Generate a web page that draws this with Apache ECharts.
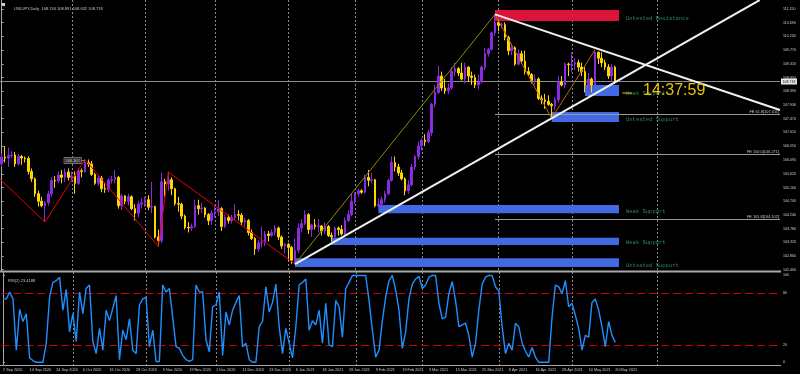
<!DOCTYPE html>
<html><head><meta charset="utf-8">
<script src="https://cdn.jsdelivr.net/npm/echarts@6/dist/echarts.min.js"></script>
<style>html,body{margin:0;padding:0;background:#000;}#c{width:800px;height:374px;}</style>
</head><body><div id="c"></div>
<script>
// ---------- DATA ----------
const dateLabels = ['2 Sep 2020','14 Sep 2020','24 Sep 2020','6 Oct 2020','16 Oct 2020','28 Oct 2020','9 Nov 2020','19 Nov 2020','1 Dec 2020','11 Dec 2020','23 Dec 2020','6 Jan 2021','18 Jan 2021','28 Jan 2021','9 Feb 2021','19 Feb 2021','3 Mar 2021','15 Mar 2021','25 Mar 2021','6 Apr 2021','16 Apr 2021','28 Apr 2021','10 May 2021','20 May 2021'];

const opens = [105.95,106.18,106.15,106.23,106.25,105.95,106.20,106.15,106.13,105.70,
105.45,104.95,104.70,104.55,104.65,104.95,105.40,105.38,105.58,105.50,
105.68,105.50,105.55,105.30,105.72,105.70,106.00,105.95,105.60,105.30,
105.48,105.12,105.10,105.40,105.42,105.50,104.55,104.88,104.70,104.85,
104.45,104.30,104.60,104.65,104.75,104.50,104.52,103.50,103.38,105.35,
105.28,105.42,105.12,104.62,104.60,104.20,103.82,103.80,103.85,104.55,
104.45,104.47,104.25,104.05,104.30,104.35,104.45,103.85,104.15,104.05,
104.15,104.25,104.23,104.00,104.05,103.65,103.45,103.10,103.30,103.32,
103.60,103.55,103.65,103.80,103.50,103.20,103.25,103.15,102.72,103.05,
103.80,103.95,104.25,103.75,103.90,103.85,103.87,103.70,103.85,103.55,
103.50,103.80,103.75,103.60,104.05,104.25,104.70,104.95,105.05,105.00,
105.50,105.40,105.42,104.55,104.60,104.75,104.95,105.40,106.00,105.85,
105.65,105.45,105.05,105.25,105.85,106.20,106.55,106.75,106.70,107.00,
107.95,108.35,108.90,108.50,108.40,108.50,109.05,109.15,109.00,108.80,
109.20,108.90,108.85,108.60,108.70,109.20,109.65,109.80,110.35,110.70,
110.60,110.62,110.20,109.75,109.85,109.30,109.65,109.40,109.05,108.95,
108.75,108.80,108.15,108.10,108.05,107.95,107.90,108.10,108.70,108.60,
109.30,109.28,109.30,109.35,109.20,109.05,108.60,108.80,108.60,109.70,
109.50,109.35,109.20,108.90,109.20];
const closes = [106.18,106.15,106.23,106.25,105.95,106.20,106.15,106.13,105.70,105.45,
104.95,104.70,104.55,104.65,104.95,105.40,105.38,105.58,105.50,105.68,
105.50,105.55,105.30,105.72,105.70,106.00,105.95,105.60,105.30,105.48,
105.12,105.10,105.40,105.42,105.50,104.55,104.88,104.70,104.85,104.45,
104.30,104.60,104.65,104.75,104.50,104.52,103.50,103.38,105.35,105.28,
105.42,105.12,104.62,104.60,104.20,103.82,103.80,103.85,104.55,104.45,
104.47,104.25,104.05,104.30,104.35,104.45,103.85,104.15,104.05,104.15,
104.25,104.23,104.00,104.05,103.65,103.45,103.10,103.30,103.32,103.60,
103.55,103.65,103.80,103.50,103.20,103.25,103.15,102.72,103.05,103.80,
103.95,104.25,103.75,103.90,103.85,103.87,103.70,103.85,103.55,103.50,
103.80,103.75,103.60,104.05,104.25,104.70,104.95,105.05,105.00,105.50,
105.40,105.42,104.55,104.60,104.75,104.95,105.40,106.00,105.85,105.65,
105.45,105.05,105.25,105.85,106.20,106.55,106.75,106.70,107.00,107.95,
108.35,108.90,108.50,108.40,108.50,109.05,109.15,109.00,108.80,109.20,
108.90,108.85,108.60,108.70,109.20,109.65,109.80,110.35,110.70,110.60,
110.62,110.20,109.75,109.85,109.30,109.65,109.40,109.05,108.95,108.75,
108.80,108.15,108.10,108.05,107.95,107.90,108.10,108.70,108.60,109.30,
109.28,109.30,109.35,109.20,109.05,108.60,108.80,108.60,109.70,109.50,
109.35,109.20,108.90,109.20,108.72];
const lows = [105.85,106.00,105.85,106.15,105.85,105.90,105.92,106.00,105.60,105.35,
104.85,104.52,104.50,104.00,104.55,104.85,105.15,105.30,105.30,105.35,
105.40,105.35,104.95,105.25,105.50,105.65,105.85,105.55,105.25,105.20,
105.00,104.98,105.00,105.30,105.30,104.45,104.40,104.60,104.55,104.40,
104.05,104.15,104.45,104.50,104.40,104.30,103.45,103.18,103.30,104.85,
105.05,104.90,104.55,104.35,104.10,103.75,103.65,103.70,103.80,104.25,
104.30,104.15,103.90,103.90,104.15,104.20,103.70,103.80,103.95,103.95,
104.05,104.05,103.90,103.85,103.55,103.40,102.90,103.00,103.15,103.20,
103.35,103.50,103.55,103.40,103.10,102.95,102.70,102.60,102.59,102.95,
103.65,103.90,103.60,103.50,103.75,103.65,103.55,103.60,103.50,103.35,
103.45,103.55,103.55,103.55,104.00,104.20,104.60,104.85,104.95,104.95,
105.20,105.30,104.50,104.50,104.50,104.65,104.90,105.35,105.70,105.55,
105.40,104.90,104.95,105.20,105.75,106.10,106.40,106.55,106.65,106.90,
107.85,108.30,108.40,108.30,108.30,108.45,108.90,108.90,108.75,108.65,
108.70,108.60,108.50,108.45,108.65,109.10,109.55,109.75,110.25,110.40,
110.50,110.10,109.60,109.60,109.25,109.25,109.30,108.95,108.90,108.65,
108.60,108.10,107.95,107.80,107.90,107.48,107.75,108.00,108.55,108.50,
108.90,109.05,109.10,109.05,108.90,108.35,108.35,108.35,108.55,109.30,
109.20,109.10,108.80,108.70,108.63];
const highs = [106.30,106.55,106.50,106.38,106.35,106.28,106.25,106.20,106.20,105.80,
105.50,105.05,104.85,104.70,105.05,105.50,105.55,105.70,105.75,105.80,
105.80,105.70,105.70,105.80,105.80,106.10,106.10,106.05,105.65,105.55,
105.55,105.30,105.48,105.55,105.75,105.55,104.95,104.90,104.95,104.90,
104.60,104.70,104.80,104.85,104.90,105.35,104.55,103.75,105.65,105.45,
105.68,105.50,105.15,104.85,104.65,104.25,104.00,103.95,104.75,104.75,
104.65,104.50,104.30,104.40,104.55,104.75,104.50,104.25,104.25,104.25,
104.60,104.40,104.30,104.15,104.10,103.75,103.50,103.40,103.85,103.70,
103.70,103.75,103.90,103.85,103.55,103.30,103.30,103.20,103.45,103.95,
104.10,104.40,104.30,103.95,104.10,104.10,103.90,104.00,103.90,103.65,
103.85,103.85,103.90,104.15,104.40,104.95,105.00,105.10,105.10,105.60,
105.75,105.65,105.45,104.80,104.85,105.05,105.45,106.20,106.20,105.95,
105.75,105.50,105.40,105.95,106.25,106.70,106.80,106.95,107.10,108.00,
108.60,109.25,109.05,108.80,108.65,109.20,109.35,109.20,109.35,109.35,
109.22,109.05,108.95,108.95,109.25,109.85,109.85,110.40,110.97,110.80,
110.70,110.70,110.25,110.00,109.90,109.80,109.75,109.75,109.20,109.00,
108.95,108.85,108.25,108.30,108.25,108.00,108.20,108.90,108.90,109.35,
109.35,109.70,109.50,109.45,109.35,109.20,109.00,108.85,109.78,109.72,
109.70,109.45,109.30,109.30,109.25];

const rsiValues = [73,73,81,73,14,61,47,56,5,2,
0,0,0,22,75,92,94,98,60,84,
35,56,24,81,56,85,89,24,10,39,
14,60,48,62,77,3,37,26,50,14,
10,66,73,75,18,37,1,1,89,81,
85,52,18,16,8,3,1,3,89,81,
81,26,12,64,66,81,8,58,43,60,
69,77,18,22,3,0,0,41,47,87,
58,69,90,41,10,39,22,5,41,89,
92,96,37,48,43,60,22,68,20,18,
71,64,29,85,92,100,100,100,100,100,
71,37,6,14,48,75,94,100,83,60,
16,35,73,90,96,99,85,89,98,100,
100,68,50,52,79,93,71,41,43,45,
31,6,22,60,90,98,100,100,87,82,
41,10,22,14,45,41,22,13,6,17,
6,0,0,0,0,52,89,87,79,94,
64,68,54,39,14,31,29,69,73,60,
41,18,47,31,23];

const priceTicks = [111.15,110.69,110.23,109.77,109.31,108.85,108.39,107.93,107.47,107.01,106.55,106.09,105.62,105.16,104.70,104.24,103.78,103.32,102.86,102.40];
const rsiTicks = [0,20,80,100];
const rsiLevels = [80,20];
const monthBars = [21,43,64,86,106,126,149,171,196.5];

// zones: [startBar, endBar, topPrice, bottomPrice]
const zones = [[148,185.2,111.12,110.75],[175,185.2,108.60,108.23],[165,185.2,107.69,107.36],[113,185.2,104.57,104.30],[99,185.2,103.47,103.23],[88,185.2,102.79,102.49]];
const zoneLabels = ['Untested Resistance','Weak Support','Untested Support','Weak Support','Weak Support','Untested Support'];
const zoneColors = ['#dc143c','#4169e1','#4169e1','#4169e1','#4169e1','#4169e1'];

const zigzagRed = [[-0.5,105.44],[13,104.00],[25,106.10],[47,103.18],[50,105.68],[88,102.59]];
const zigzagOlive = [[88,102.59],[148,110.97]];
const zigzagOrange = [[148,110.97],[165,107.48],[178,109.78]];
const trendRise = [[88,102.59],[227.4,111.45]];
const trendFall = [[148,110.97],[233.5,107.76]];
const clockDash = [[186.2,108.33],[189.2,108.33]];
const feLevels = [[148,107.611],[148,106.271],[148,104.102]];
const feLabels = ['FE 61.8[107.611]','FE 100.0[106.271]','FE 161.8[104.102]'];
const lastPrice = 108.718;
const pivotLabel = [25,106.10];
const pivotText = '106.102';

// ---------- CHART ----------
const N = 234;
const cats = Array.from({length: N}, (_, i) => String(i));
const candles = opens.map((o, i) => [o, closes[i], lows[i], highs[i]]);

function segSeries(pts, color, width, z) {
  const data = [];
  for (let i = 0; i < pts.length - 1; i++) data.push([pts[i][0], pts[i][1], pts[i+1][0], pts[i+1][1]]);
  return {
    type: 'custom', xAxisIndex: 1, yAxisIndex: 0, silent: true, z: z || 5, clip: false,
    encode: {x: [0, 2], y: [1, 3]},
    data,
    renderItem: (params, api) => {
      const a = api.coord([api.value(0), api.value(1)]);
      const b = api.coord([api.value(2), api.value(3)]);
      return {type: 'line', shape: {x1: a[0], y1: a[1], x2: b[0], y2: b[1]}, style: {stroke: color, lineWidth: width}};
    }
  };
}
function vgrid(xi, yi, yv) {
  return {
    type: 'custom', xAxisIndex: xi, yAxisIndex: yi, silent: true, z: 1, clip: false,
    data: monthBars.map(b => [b, yv]),
    renderItem: (params, api) => {
      const x = Math.round(api.coord([api.value(0), yv])[0]) + 0.5;
      const cs = params.coordSys;
      return {type: 'line', shape: {x1: x, y1: cs.y, x2: x, y2: cs.y + cs.height}, style: {stroke: '#8a8a8a', lineWidth: 1, lineDash: [2, 2]}};
    }
  };
}

const chart = echarts.init(document.getElementById('c'), null, {renderer: 'canvas'});
const smallFont = '"Liberation Sans", Arial, sans-serif';

chart.setOption({
  animation: false,
  backgroundColor: '#000',
  title: [
    {text: 'USDJPY,Daily  108.744 108.891 108.632 108.718', left: 9, top: 2, textStyle: {color: '#c8c8c8', fontSize: 4, fontWeight: 'normal', fontFamily: smallFont}},
    {text: 'RSI(2) 23.4188', left: 3, top: 274, textStyle: {color: '#c8c8c8', fontSize: 4, fontWeight: 'normal', fontFamily: smallFont}}
  ],
  graphic: [
    {type: 'rect', shape: {x: 2, y: 3, width: 3, height: 3}, style: {fill: '#d0d0d0'}},
    {type: 'line', shape: {x1: 0, y1: 271.5, x2: 781, y2: 271.5}, style: {stroke: '#a8a8a8', lineWidth: 2}, z: 50},
    {type: 'line', shape: {x1: 0, y1: 365.5, x2: 781, y2: 365.5}, style: {stroke: '#a8a8a8', lineWidth: 1}, z: 50},
    {type: 'text', x: 643, y: 91, style: {text: '14:37:59', fill: '#e6c200', font: '16px "Liberation Sans", Arial, sans-serif', verticalAlign: 'middle'}, z: 100}
  ],
  grid: [
    {left: 0, top: 0, width: 780, height: 271, show: false},
    {left: 0, top: 272, width: 780, height: 93, show: false}
  ],
  xAxis: [
    {type: 'category', gridIndex: 0, data: cats, show: false, boundaryGap: true},
    {type: 'value', gridIndex: 0, min: -0.5, max: N - 0.5, show: false},
    {type: 'category', gridIndex: 1, data: cats, boundaryGap: true, position: 'bottom',
      axisLine: {show: false}, axisTick: {show: false}, splitLine: {show: false},
      axisLabel: {
        interval: (idx) => idx % 8 === 0 && idx <= 184,
        formatter: (v, idx) => dateLabels[idx / 8] || '',
        align: 'left', color: '#c8c8c8', fontSize: 3.8, fontFamily: smallFont, margin: 2.5
      }},
    {type: 'value', gridIndex: 1, min: -0.5, max: N - 0.5, show: false}
  ],
  yAxis: [
    {type: 'value', gridIndex: 0, position: 'right', min: 102.358, max: 111.452, scale: true,
      axisLine: {show: true, lineStyle: {color: '#a8a8a8', width: 1}},
      axisTick: {show: true, length: 2, customValues: priceTicks, lineStyle: {color: '#a8a8a8'}},
      splitLine: {show: false},
      axisLabel: {customValues: priceTicks, formatter: v => v.toFixed(3), color: '#d0d0d0', fontSize: 3.6, fontFamily: smallFont, margin: 3}},
    {type: 'value', gridIndex: 1, position: 'right', min: -3.1, max: 104,
      axisLine: {show: true, lineStyle: {color: '#a8a8a8', width: 1}},
      axisTick: {show: true, length: 2, customValues: rsiTicks, lineStyle: {color: '#a8a8a8'}},
      splitLine: {show: false},
      axisLabel: {customValues: rsiTicks, formatter: v => String(v), color: '#d0d0d0', fontSize: 3.6, fontFamily: smallFont, margin: 3}}
  ],
  series: [
    vgrid(1, 0, 105),
    vgrid(3, 1, 50),
    // zones
    {
      type: 'custom', xAxisIndex: 1, yAxisIndex: 0, silent: true, z: 3, clip: false,
      data: zones,
      renderItem: (params, api) => {
        const p1 = api.coord([api.value(0), api.value(2)]);
        const p2 = api.coord([api.value(1), api.value(3)]);
        const i = params.dataIndex;
        return {type: 'group', children: [
          {type: 'rect', shape: {x: p1[0], y: p1[1], width: p2[0] - p1[0], height: p2[1] - p1[1]}, style: {fill: zoneColors[i]}},
          {type: 'text', x: p2[0] + 7, y: p2[1] - 2, style: {text: zoneLabels[i], fill: '#2e8b57', font: '5.5px "Liberation Mono", monospace', align: 'left', verticalAlign: 'middle'}}
        ]};
      }
    },
    // FE levels
    {
      type: 'custom', xAxisIndex: 1, yAxisIndex: 0, silent: true, z: 4, clip: false,
      data: feLevels,
      renderItem: (params, api) => {
        const p = api.coord([api.value(0), api.value(1)]);
        const cs = params.coordSys;
        const y = Math.round(p[1]) + 0.5;
        return {type: 'group', children: [
          {type: 'line', shape: {x1: p[0], y1: y, x2: cs.x + cs.width, y2: y}, style: {stroke: '#9a9a9a', lineWidth: 1}},
          {type: 'text', x: cs.x + cs.width - 1, y: y - 0.5, style: {text: feLabels[params.dataIndex], fill: '#c8c8c8', font: '3.9px ' + smallFont, align: 'right', verticalAlign: 'bottom'}}
        ]};
      }
    },
    // last price line
    {
      type: 'custom', xAxisIndex: 1, yAxisIndex: 0, silent: true, z: 4, clip: false,
      data: [[0, lastPrice]],
      renderItem: (params, api) => {
        const p = api.coord([0, api.value(1)]);
        const cs = params.coordSys;
        const y = Math.round(p[1]) + 0.5;
        return {type: 'group', children: [
          {type: 'line', shape: {x1: cs.x, y1: y, x2: cs.x + cs.width, y2: y}, style: {stroke: '#8c8c8c', lineWidth: 1}},
          {type: 'text', x: cs.x + cs.width + 1, y: y, style: {text: lastPrice.toFixed(3), fill: '#000', backgroundColor: '#e8e8e8', padding: [1, 1.5], font: '3.6px ' + smallFont, align: 'left', verticalAlign: 'middle'}}
        ]};
      }
    },
    // RSI levels
    {
      type: 'custom', xAxisIndex: 3, yAxisIndex: 1, silent: true, z: 3, clip: false,
      data: rsiLevels.map(v => [0, v]),
      renderItem: (params, api) => {
        const p = api.coord([0, api.value(1)]);
        const cs = params.coordSys;
        const y = Math.round(p[1]) + 0.5;
        return {type: 'line', shape: {x1: cs.x, y1: y, x2: cs.x + cs.width, y2: y}, style: {stroke: '#d00000', lineWidth: 1.2, lineDash: [8, 4]}};
      }
    },
    segSeries(zigzagRed, '#ee0000', 1, 6),
    segSeries(zigzagOlive, '#8b8b00', 1, 6),
    segSeries(zigzagOrange, '#b8641e', 1, 6),
    segSeries(trendRise, '#f0f0f0', 2, 8),
    segSeries(trendFall, '#f0f0f0', 2, 8),
    segSeries(clockDash, '#e6c200', 1, 8),
    // pivot label
    {
      type: 'custom', xAxisIndex: 1, yAxisIndex: 0, silent: true, z: 9, clip: false,
      data: [pivotLabel],
      renderItem: (params, api) => {
        const p = api.coord([api.value(0), api.value(1)]);
        return {type: 'group', children: [
          {type: 'line', shape: {x1: p[0] - 4, y1: p[1] + 1, x2: p[0], y2: p[1] + 1}, style: {stroke: '#909090', lineWidth: 0.8}},
          {type: 'text', x: p[0] - 4, y: p[1] + 1, style: {text: pivotText, fill: '#d0d0d0', backgroundColor: '#333', borderColor: '#888', borderWidth: 0.6, padding: [0.8, 1.5], font: '3.8px ' + smallFont, align: 'right', verticalAlign: 'middle'}}
        ]};
      }
    },
    {
      type: 'candlestick', xAxisIndex: 0, yAxisIndex: 0, z: 5,
      barWidth: 2,
      data: candles,
      itemStyle: {color: '#8a2be2', color0: '#ffd700', borderColor: '#8a2be2', borderColor0: '#ffd700', borderWidth: 1}
    },
    {
      type: 'line', xAxisIndex: 2, yAxisIndex: 1, data: rsiValues, showSymbol: false, z: 5,
      lineStyle: {color: '#1e90ff', width: 1.4}
    }
  ]
});
</script>
</body></html>
